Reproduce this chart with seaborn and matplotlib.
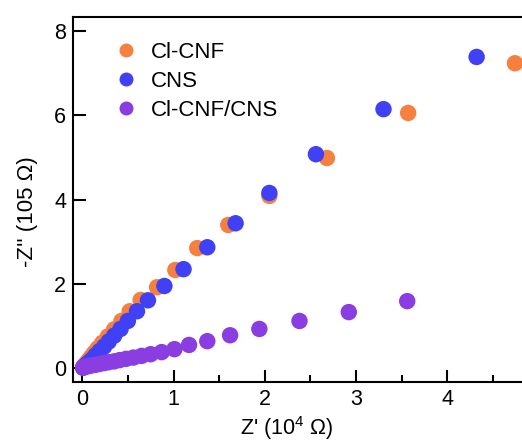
import pandas as pd
import matplotlib
matplotlib.use('Agg')
import matplotlib.pyplot as plt
import seaborn as sns

# Cl-CNF (orange)
cnf_x = [0.01, 0.02, 0.03, 0.05, 0.07, 0.10, 0.13, 0.17, 0.22, 0.28, 0.35, 0.43, 0.52,
         0.64, 0.82, 1.02, 1.26, 1.60, 2.05, 2.68, 3.57, 4.74]
cnf_y = [0.01, 0.04, 0.08, 0.13, 0.19, 0.27, 0.36, 0.47, 0.60, 0.75, 0.92, 1.12, 1.35,
         1.62, 1.92, 2.33, 2.85, 3.40, 4.09, 4.99, 6.06, 7.24]

# CNS (blue)
cns_x = [0.01, 0.02, 0.04, 0.06, 0.09, 0.12, 0.15, 0.19, 0.24, 0.29, 0.35, 0.42, 0.50,
         0.60, 0.72, 0.90, 1.11, 1.37, 1.68, 2.05, 2.56, 3.30, 4.32]
cns_y = [0.01, 0.03, 0.07, 0.11, 0.17, 0.23, 0.31, 0.40, 0.51, 0.63, 0.77, 0.93, 1.12,
         1.35, 1.61, 1.95, 2.35, 2.87, 3.44, 4.16, 5.08, 6.15, 7.39]

# Cl-CNF/CNS (purple)
mix_x = [0.01, 0.03, 0.05, 0.08, 0.11, 0.15, 0.19, 0.24, 0.29, 0.35, 0.41, 0.48, 0.56,
         0.65, 0.75, 0.87, 1.01, 1.17, 1.37, 1.62, 1.94, 2.38, 2.92, 3.56]
mix_y = [0.02, 0.03, 0.04, 0.05, 0.07, 0.08, 0.10, 0.12, 0.14, 0.16, 0.19, 0.22, 0.25,
         0.29, 0.33, 0.38, 0.45, 0.55, 0.64, 0.78, 0.93, 1.12, 1.33, 1.59]

labels = ['Cl-CNF', 'CNS', 'Cl-CNF/CNS']
colors = {'Cl-CNF': '#F6803F', 'CNS': '#4040F5', 'Cl-CNF/CNS': '#8A3DE0'}

df = pd.concat([
    pd.DataFrame({'x': cnf_x, 'y': cnf_y, 'sample': 'Cl-CNF'}),
    pd.DataFrame({'x': cns_x, 'y': cns_y, 'sample': 'CNS'}),
    pd.DataFrame({'x': mix_x, 'y': mix_y, 'sample': 'Cl-CNF/CNS'}),
], ignore_index=True)

sns.set_style('ticks')
plt.rcParams['font.family'] = ['Liberation Sans', 'DejaVu Sans']
plt.rcParams['mathtext.fontset'] = 'custom'
plt.rcParams['mathtext.rm'] = 'Liberation Sans'
plt.rcParams['text.color'] = 'black'
plt.rcParams['axes.labelcolor'] = 'black'
plt.rcParams['xtick.color'] = 'black'
plt.rcParams['ytick.color'] = 'black'

fig = plt.figure(figsize=(5.22, 4.46), dpi=100)
ax = fig.add_axes([0.140, 0.1435, 0.892, 0.8185])

sns.scatterplot(data=df, x='x', y='y', hue='sample', hue_order=labels, palette=colors,
                s=140, linewidth=0, alpha=1, ax=ax)

ax.set_xlim(-0.1, 5.0)
ax.set_ylim(-0.33, 8.34)
ax.set_xticks([0, 1, 2, 3, 4])
ax.set_xticks([0.5, 1.5, 2.5, 3.5, 4.5], minor=True)
ax.set_yticks([0, 2, 4, 6, 8])
ax.tick_params(direction='in', labelsize=15.5, length=9, width=1.5, color='black', pad=5)
ax.tick_params(which='minor', direction='in', length=5, width=1.5)
for sp in ax.spines.values():
    sp.set_linewidth(1.5)
    sp.set_color('black')

ax.set_xlabel("Z' (10$^4$ \u03a9)", fontsize=15.5)
ax.set_ylabel("-Z'' (105 \u03a9)", fontsize=16)
ax.xaxis.set_label_coords(0.458, -0.088)
ax.yaxis.set_label_coords(-0.075, 0.467)

handles, _ = ax.get_legend_handles_labels()
ax.legend(handles=handles, labels=labels, loc='upper left', frameon=False, fontsize=16,
          markerscale=0.85, handlelength=1.6, handletextpad=0.35, labelspacing=0.36,
          borderpad=0, borderaxespad=0, bbox_to_anchor=(0.075, 0.932))

fig.savefig('out.png', dpi=100)
